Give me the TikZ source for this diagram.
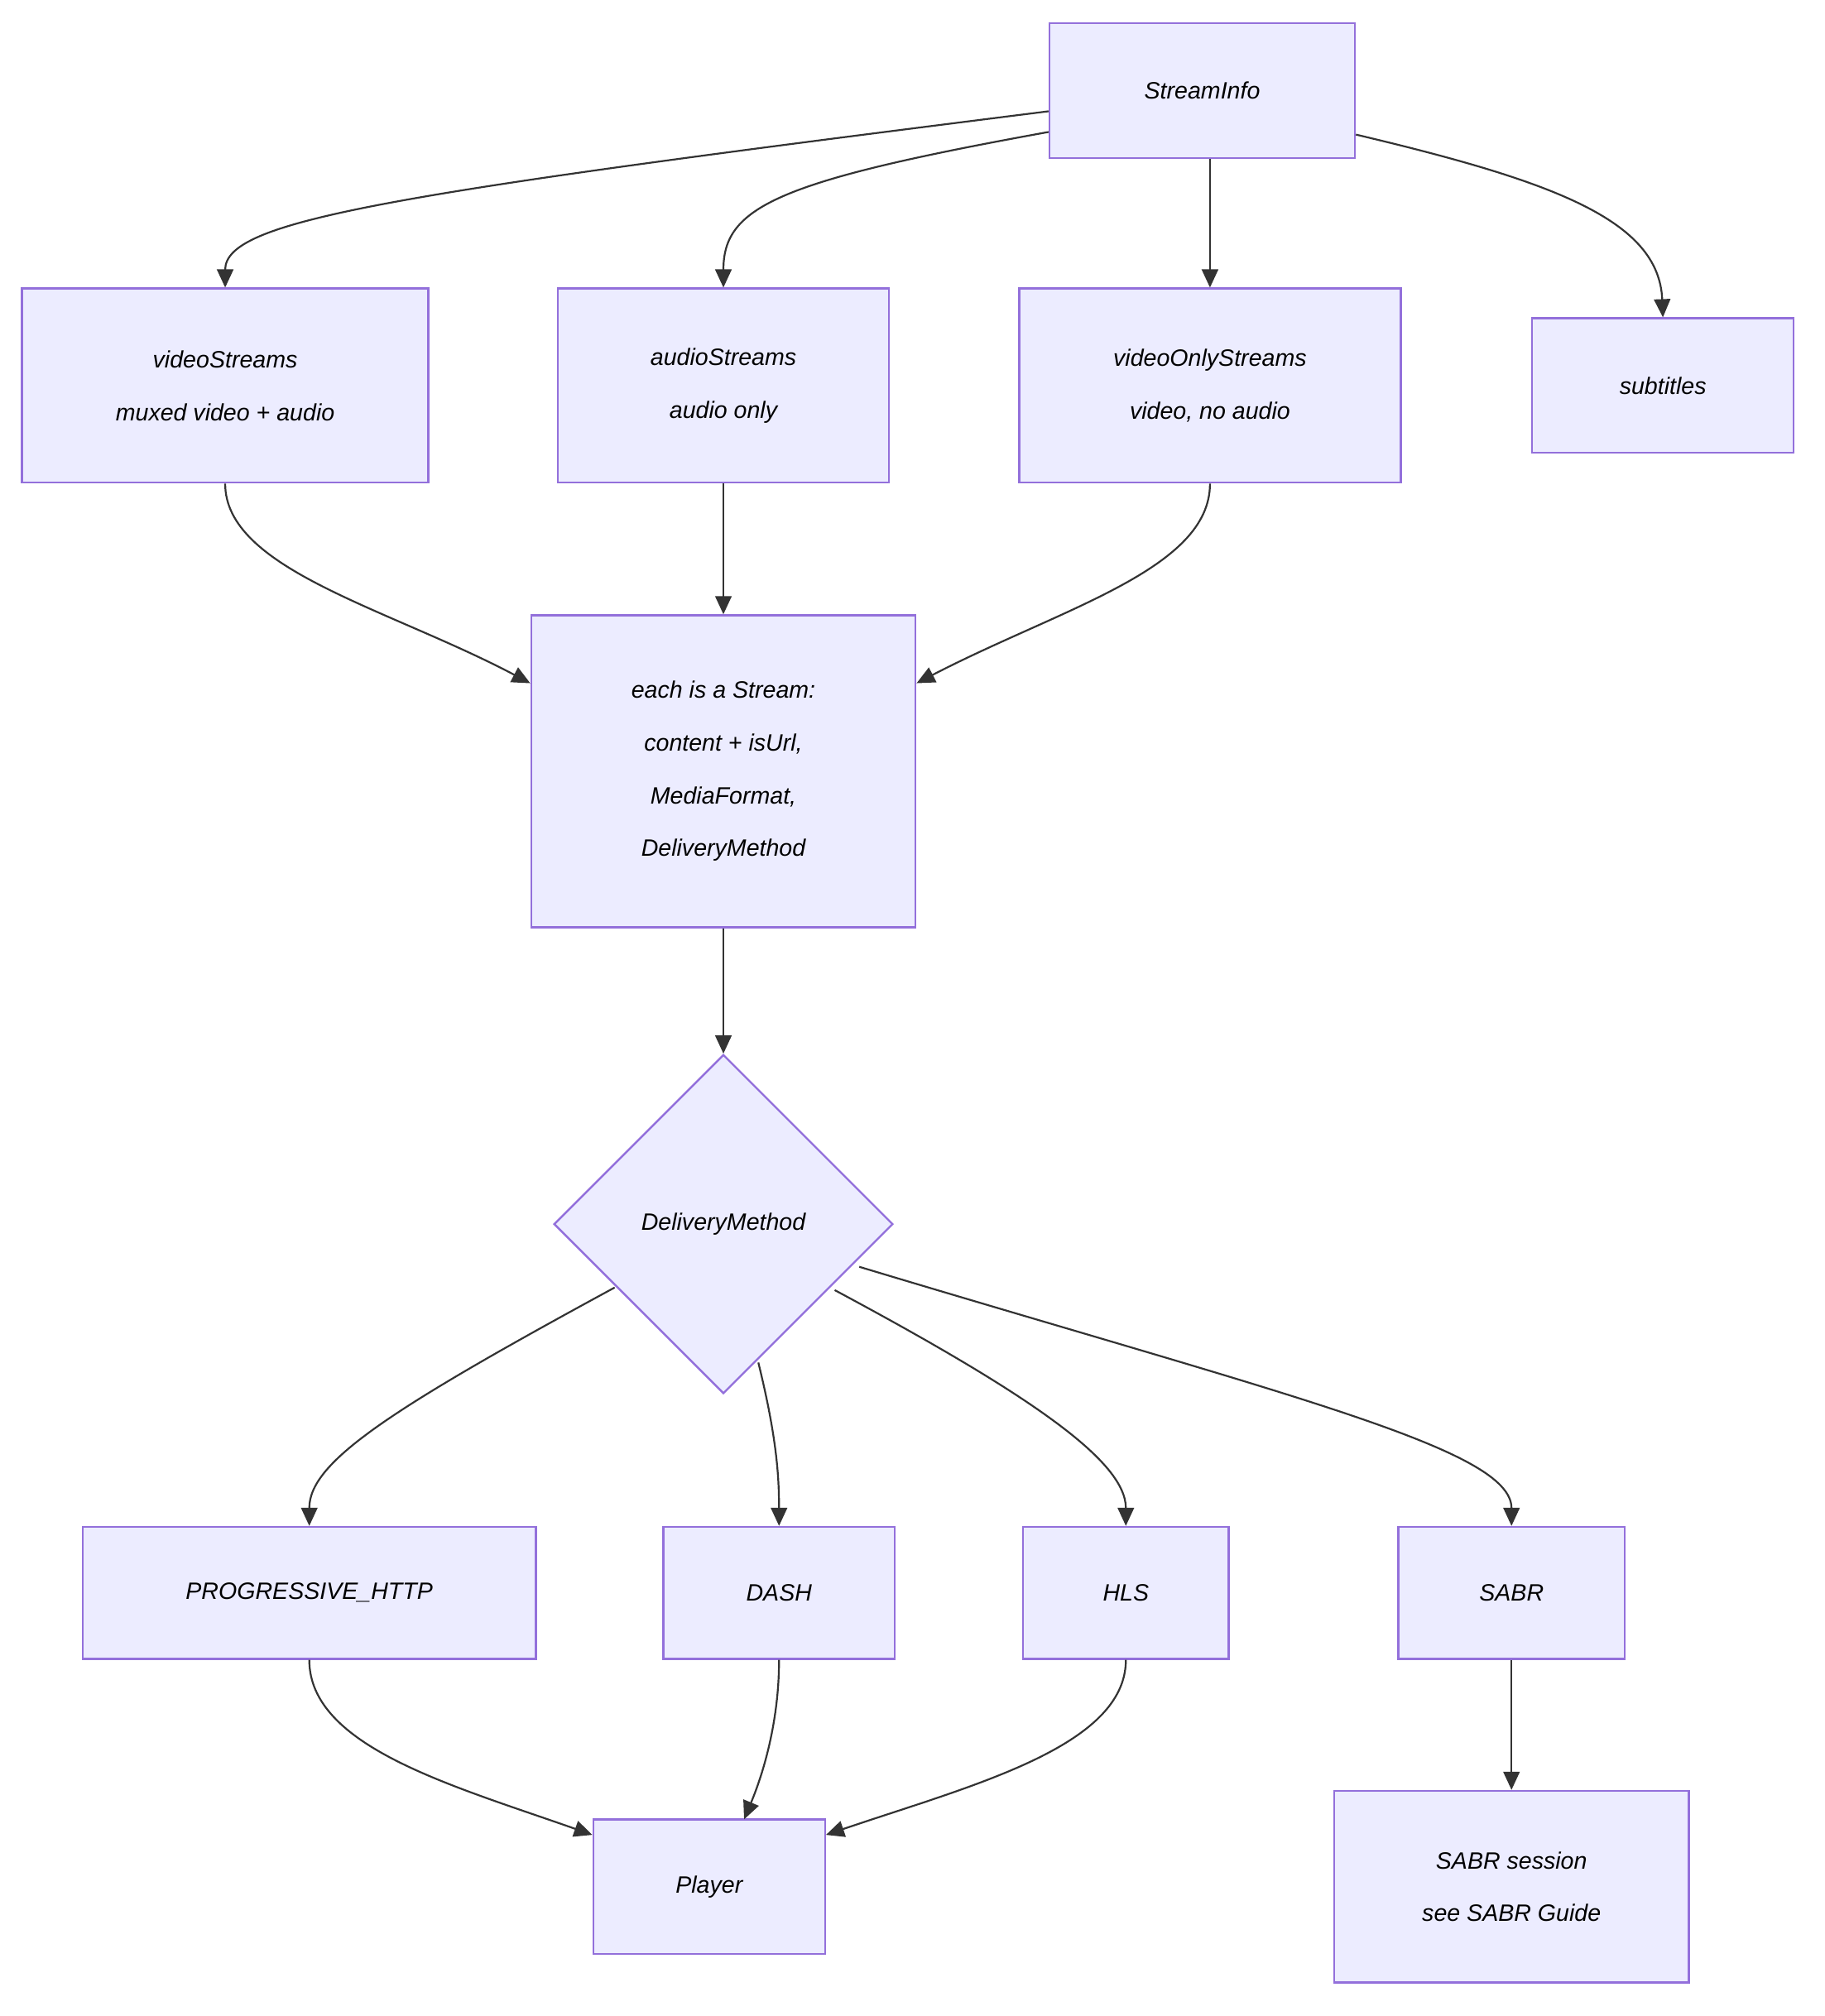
\documentclass[tikz,border=0pt]{standalone}
\usepackage{fontspec}
\setmainfont{Liberation Sans}
\usetikzlibrary{shapes.geometric,arrows.meta}
\definecolor{nfill}{HTML}{ECECFF}
\definecolor{nline}{HTML}{9370DB}
\definecolor{eline}{HTML}{333333}
\newlength{\pxu}\setlength{\pxu}{0.05cm}
\tikzset{
 box/.style={draw=nline,fill=nfill,line width=2.2pt,inner sep=0pt,align=center,font=\fontsize{26}{58}\selectfont\itshape},
 dia/.style={diamond,draw=nline,fill=nfill,line width=2.2pt,inner sep=0pt,minimum width=262\pxu,minimum height=262\pxu,font=\fontsize{26}{58}\selectfont\itshape},
 edge/.style={draw=eline,line width=2pt,-{Triangle[length=20pt,width=18pt]}}
}
\begin{document}
\begin{tikzpicture}[x=0.05cm,y=-0.05cm]
\useasboundingbox (0,0) rectangle (1410,1558);
\newcommand{\bx}[6]{\node[box,minimum width=#4\pxu,minimum height=#5\pxu] (#1) at (#2,#3) {#6};}
\bx{si}{929}{70}{236}{104}{StreamInfo}
\bx{vs}{174}{298}{314}{150}{videoStreams\\muxed video + audio}
\bx{as}{559}{298}{256}{150}{audioStreams\\audio only}
\bx{vo}{935}{298}{295}{150}{videoOnlyStreams\\video, no audio}
\bx{sub}{1285}{298}{202}{104}{subtitles}
\bx{st}{559}{596}{297}{241}{each is a Stream:\\content + isUrl,\\MediaFormat,\\DeliveryMethod}
\node[dia] (dm) at (559,946) {DeliveryMethod};
\bx{ph}{239}{1231}{350}{102}{PROGRESSIVE\_HTTP}
\bx{da}{602}{1231}{179}{102}{DASH}
\bx{hl}{870}{1231}{159}{102}{HLS}
\bx{sa}{1168}{1231}{175}{102}{SABR}
\bx{pl}{548}{1458}{179}{104}{Player}
\bx{ss}{1168}{1458}{274}{148}{SABR session\\see SABR Guide}
\draw[edge] (si.west |- 0,86) .. controls (300,150) and (174,170) .. (vs.north);
\draw[edge] (si.west |- 0,102) .. controls (600,140) and (559,160) .. (as.north);
\draw[edge] (si.south -| 935,0) -- (vo.north);
\draw[edge] (si.east |- 0,104) .. controls (1200,140) and (1282,170) .. (sub.north);
\draw[edge] (vs.south) .. controls (174,440) and (300,470) .. (st.west |- 0,528);
\draw[edge] (as.south) -- (st.north);
\draw[edge] (vo.south) .. controls (935,440) and (820,470) .. (st.east |- 0,528);
\draw[edge] (st.south) -- (dm.north);
\draw[edge] (475,995) .. controls (300,1090) and (239,1130) .. (ph.north);
\draw[edge] (586,1053) .. controls (600,1110) and (602,1140) .. (da.north);
\draw[edge] (645,997) .. controls (800,1080) and (870,1130) .. (hl.north);
\draw[edge] (664,979) .. controls (1000,1080) and (1168,1120) .. (sa.north);
\draw[edge] (ph.south) .. controls (239,1350) and (350,1380) .. (pl.west |- 0,1418);
\draw[edge] (da.south) .. controls (602,1330) and (590,1370) .. (575,1406);
\draw[edge] (hl.south) .. controls (870,1350) and (750,1380) .. (pl.east |- 0,1418);
\draw[edge] (sa.south) -- (ss.north);
\end{tikzpicture}
\end{document}
